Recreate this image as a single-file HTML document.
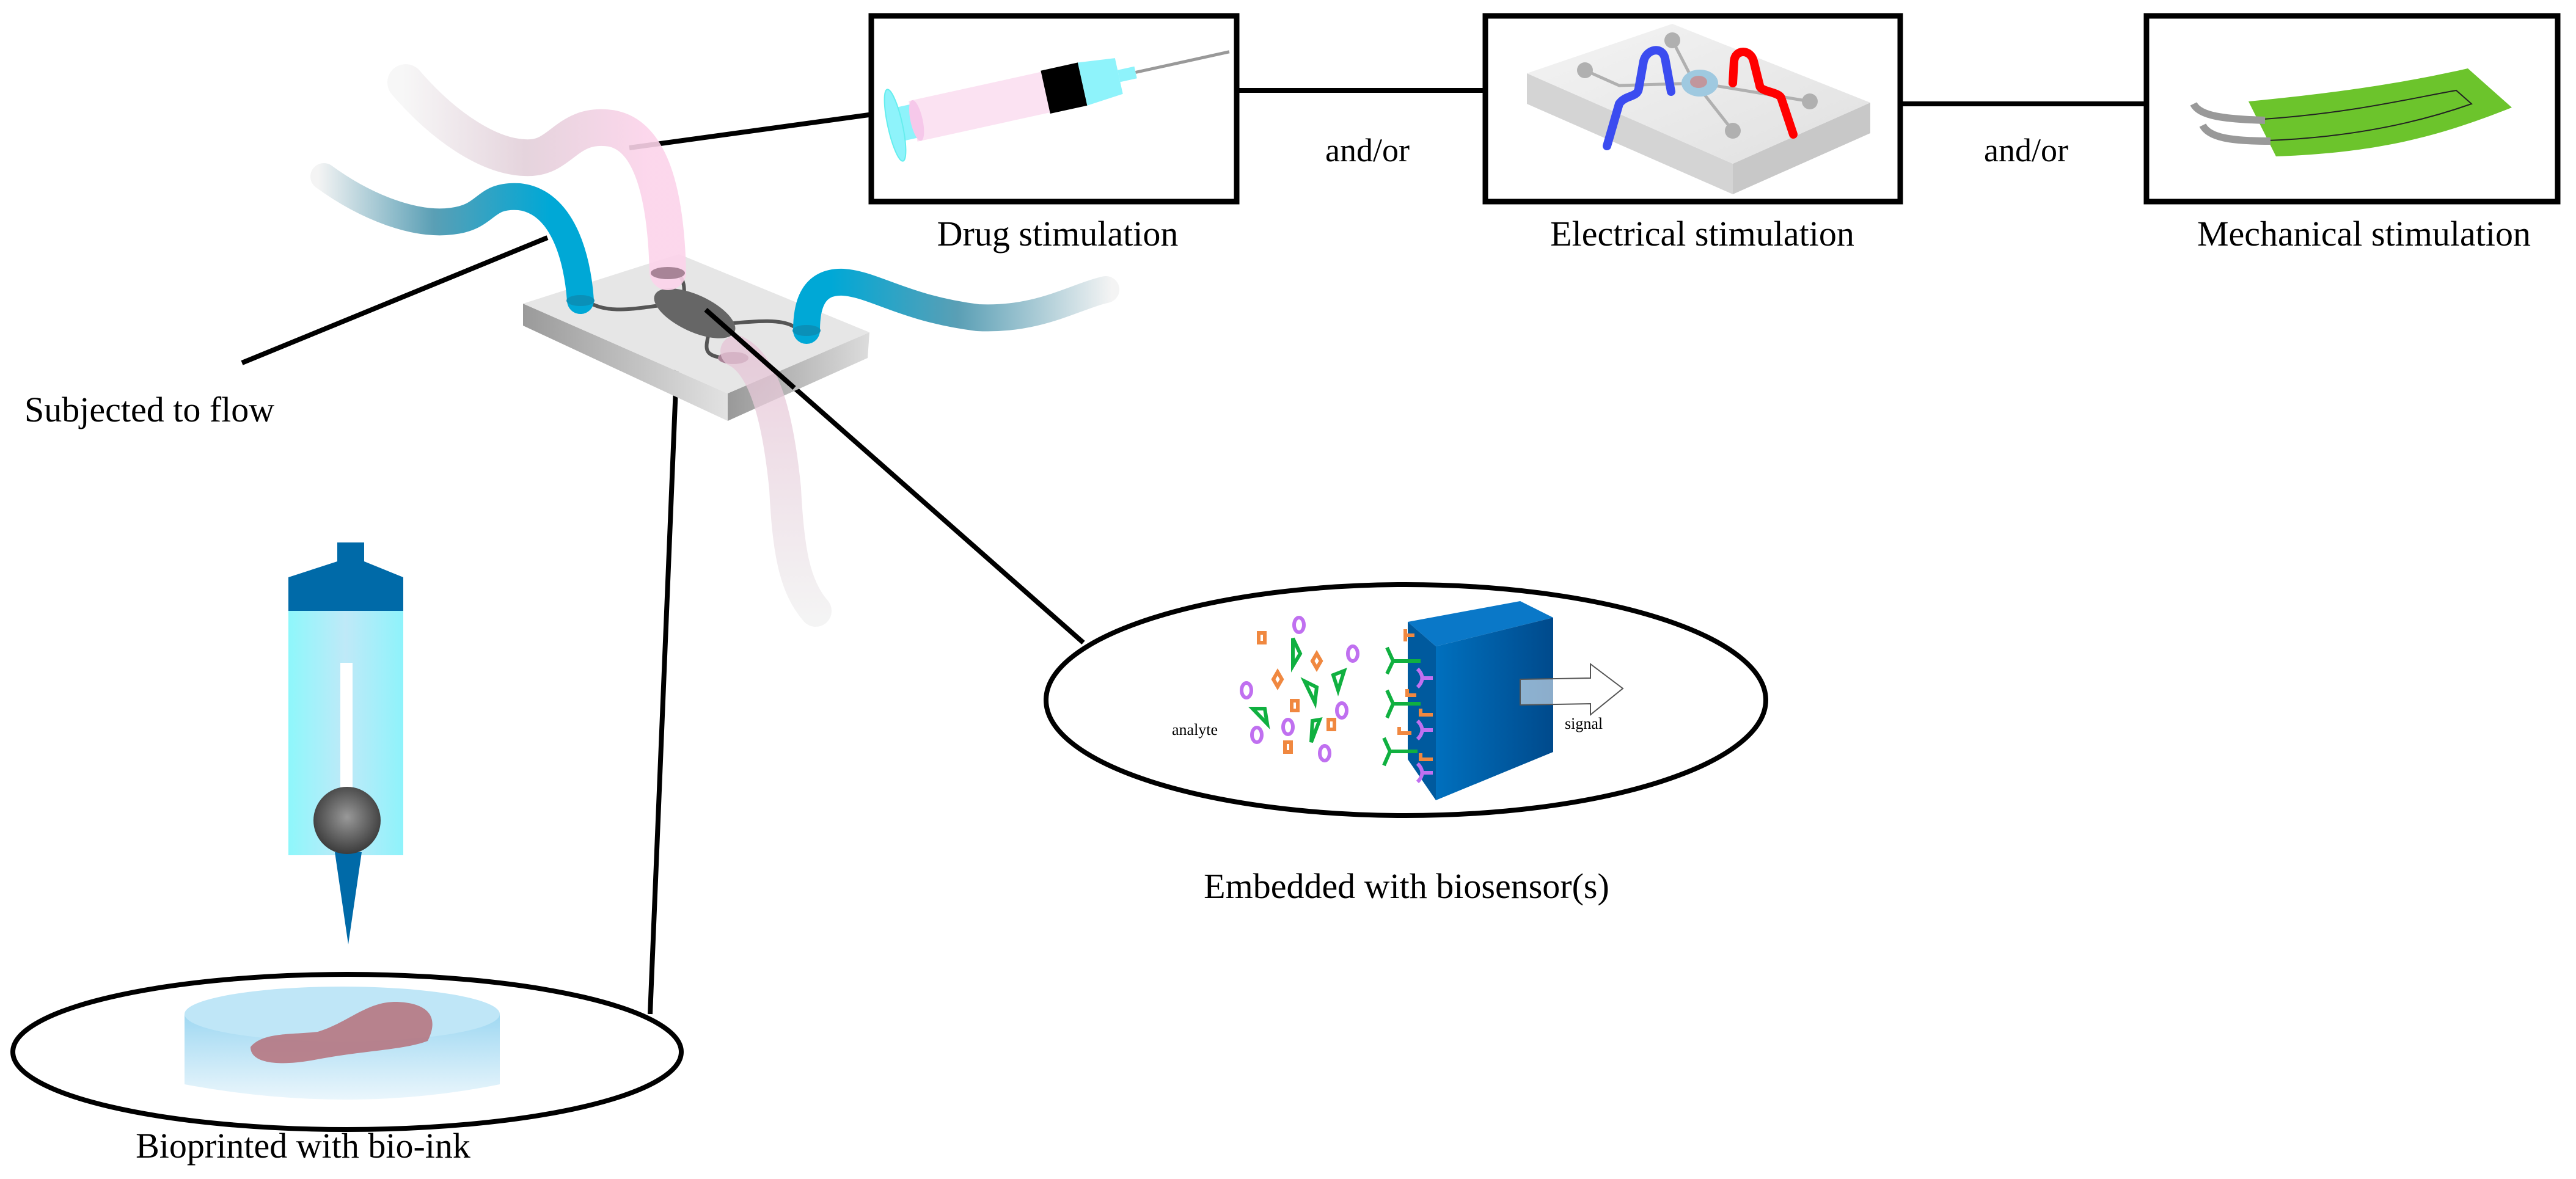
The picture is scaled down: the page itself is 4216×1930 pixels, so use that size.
<!DOCTYPE html>
<html><head><meta charset="utf-8"><style>
html,body{margin:0;padding:0;background:#fff;}
svg{display:block;}
text{font-family:"Liberation Serif",serif;fill:#000;}
</style></head><body>
<svg width="4216" height="1930" viewBox="0 0 4216 1930" xmlns="http://www.w3.org/2000/svg">
<defs>
<linearGradient id="gBlueL" gradientUnits="userSpaceOnUse" x1="520" y1="0" x2="900" y2="0"><stop offset="0" stop-color="#f4f4f4"/><stop offset="0.5" stop-color="#5a9fb5"/><stop offset="1" stop-color="#00a8d6"/></linearGradient>
<linearGradient id="gBlueR" gradientUnits="userSpaceOnUse" x1="1360" y1="0" x2="1820" y2="0"><stop offset="0" stop-color="#00a8d6"/><stop offset="0.45" stop-color="#5a9fb5"/><stop offset="1" stop-color="#f4f4f4"/></linearGradient>
<linearGradient id="gPinkT" gradientUnits="userSpaceOnUse" x1="660" y1="0" x2="1060" y2="0"><stop offset="0" stop-color="#f6f6f6"/><stop offset="0.5" stop-color="#e2cfd9"/><stop offset="1" stop-color="#fcd3ea"/></linearGradient>
<linearGradient id="gPinkB" gradientUnits="userSpaceOnUse" x1="0" y1="590" x2="0" y2="1010"><stop offset="0" stop-color="#e6c4d6"/><stop offset="1" stop-color="#f0f0f0"/></linearGradient>
<linearGradient id="gSideL" x1="0" y1="0" x2="1" y2="0"><stop offset="0" stop-color="#9a9a9a"/><stop offset="1" stop-color="#e2e2e2"/></linearGradient>
<linearGradient id="gSideR" x1="0" y1="0" x2="1" y2="0"><stop offset="0" stop-color="#999"/><stop offset="1" stop-color="#dcdcdc"/></linearGradient>
<linearGradient id="gPrint" x1="0" y1="0" x2="1" y2="0"><stop offset="0" stop-color="#8ef7fb"/><stop offset="0.5" stop-color="#bfe9f8"/><stop offset="1" stop-color="#8ef3fb"/></linearGradient>
<radialGradient id="gBall" cx="0.5" cy="0.45" r="0.6"><stop offset="0" stop-color="#999"/><stop offset="1" stop-color="#333"/></radialGradient>
<linearGradient id="gDish" x1="0" y1="0" x2="0" y2="1"><stop offset="0" stop-color="#9fd8f2"/><stop offset="1" stop-color="#eaf6fc"/></linearGradient>
<linearGradient id="gBlock" x1="0" y1="0" x2="1" y2="0"><stop offset="0" stop-color="#0070be"/><stop offset="1" stop-color="#004a8c"/></linearGradient>
<linearGradient id="gEl" x1="0" y1="0" x2="1" y2="1"><stop offset="0" stop-color="#f4f4f4"/><stop offset="1" stop-color="#e0e0e0"/></linearGradient>
</defs>

<!-- connector lines -->
<g stroke="#000" stroke-width="8" fill="none">
<line x1="1030" y1="242" x2="1422" y2="188"/>
<line x1="896" y1="389" x2="396" y2="594"/>
<line x1="1111" y1="513" x2="1064" y2="1660"/>
<line x1="1155" y1="507" x2="1773" y2="1052"/>
<line x1="2028" y1="148" x2="2427" y2="148"/>
<line x1="3114" y1="170" x2="3509" y2="170"/>
</g>

<!-- chip -->
<polygon points="856,497 1191,644 1191,689 856,533" fill="url(#gSideL)"/>
<polygon points="1191,644 1423,544 1420,586 1191,689" fill="url(#gSideR)"/>
<polygon points="856,497 1111,416 1423,544 1191,644" fill="#e6e6e6"/>
<g stroke="#555" stroke-width="6" fill="none">
<path d="M960 492 C 990 515, 1040 505, 1080 500"/>
<path d="M1110 447 C 1120 460, 1120 470, 1120 485"/>
<path d="M1190 530 C 1240 525, 1280 522, 1300 535"/>
<path d="M1160 545 C 1155 570, 1150 582, 1185 586"/>
</g>
<ellipse cx="1137" cy="513" rx="72" ry="30" transform="rotate(25 1137 513)" fill="#666"/>

<!-- tubes -->
<path d="M530 289 C 600 340, 680 370, 740 362 C 800 355, 790 318, 850 322 C 920 330, 945 420, 950 492" stroke="url(#gBlueL)" stroke-width="44" fill="none" stroke-linecap="round"/>
<ellipse cx="950" cy="492" rx="23" ry="9" fill="#0a90b8"/>
<path d="M664 135 C 720 200, 800 262, 870 258 C 920 255, 930 200, 1000 210 C 1070 222, 1090 330, 1093 445" stroke="url(#gPinkT)" stroke-width="60" fill="none" stroke-linecap="round" opacity="0.9"/>
<ellipse cx="1093" cy="447" rx="28" ry="10" fill="#a88497"/>
<path d="M1320 541 C 1320 500, 1330 460, 1380 462 C 1430 465, 1480 505, 1600 520 C 1700 525, 1760 485, 1810 474" stroke="url(#gBlueR)" stroke-width="44" fill="none" stroke-linecap="round"/>
<ellipse cx="1320" cy="541" rx="23" ry="9" fill="#0a90b8"/>
<ellipse cx="1200" cy="586" rx="25" ry="10" fill="#a88497"/>
<path d="M1205 575 C 1255 600, 1275 700, 1285 800 C 1290 900, 1300 960, 1335 1000" stroke="url(#gPinkB)" stroke-width="52" fill="none" stroke-linecap="round" opacity="0.75"/>
<line x1="1155" y1="507" x2="1300" y2="635" stroke="#000" stroke-width="8"/>

<!-- Box 1: drug -->
<rect x="1426" y="26" width="598" height="304" fill="none" stroke="#000" stroke-width="9"/>
<g transform="translate(1465 205) rotate(-12.4)">
<rect x="8" y="-28" width="28" height="56" fill="#8ef3fb"/>
<rect x="30" y="-34" width="225" height="68" fill="#fbe2f2"/>
<ellipse cx="36" cy="0" rx="10" ry="34" fill="#f6c8ea"/>
<rect x="252" y="-36" width="62" height="72" fill="#000"/>
<polygon points="314,-36 375,-30 375,30 314,36" fill="#8ef3fb"/>
<rect x="375" y="-10" width="28" height="20" fill="#8ef3fb"/>
<line x1="403" y1="0" x2="560" y2="0" stroke="#999" stroke-width="5"/>
<ellipse cx="0" cy="0" rx="12" ry="60" fill="#8ef3fb" stroke="#6ee" stroke-width="2"/>
</g>
<text x="1731" y="402" font-size="58" text-anchor="middle">Drug stimulation</text>

<text x="2238" y="264" font-size="54" text-anchor="middle">and/or</text>
<text x="3316" y="264" font-size="54" text-anchor="middle">and/or</text>

<!-- Box 2: electrical -->
<rect x="2431" y="26" width="679" height="304" fill="none" stroke="#000" stroke-width="9"/>
<polygon points="2499,120 2836,268 2836,318 2499,170" fill="#d4d4d4"/>
<polygon points="2836,268 3061,168 3061,218 2836,318" fill="#c8c8c8"/>
<polygon points="2737,39 3061,168 2836,268 2499,120" fill="url(#gEl)"/>
<g stroke="#b0b0b0" stroke-width="5" fill="none"><path d="M2737 66 L2770 130 L2836 214"/><path d="M2594 115 L2650 140 L2782 136 L2962 166"/></g>
<g fill="#b0b0b0"><circle cx="2737" cy="66" r="13"/><circle cx="2594" cy="115" r="13"/><circle cx="2962" cy="166" r="13"/><circle cx="2836" cy="214" r="13"/></g>
<ellipse cx="2782" cy="136" rx="30" ry="22" fill="#9fc9e0"/>
<ellipse cx="2780" cy="134" rx="14" ry="10" fill="#d08080" opacity="0.7"/>
<path d="M2630 239 L2650 170 C 2660 155, 2680 160, 2682 145 L2690 100 C 2695 80, 2720 75, 2725 95 L2735 150" stroke="#3b4cf0" stroke-width="14" fill="none" stroke-linecap="round"/>
<path d="M2935 220 L2915 160 C 2910 150, 2880 150, 2880 140 L2870 100 C 2865 80, 2840 80, 2838 100 L2836 136" stroke="#f00" stroke-width="14" fill="none" stroke-linecap="round"/>
<text x="2786" y="402" font-size="58" text-anchor="middle">Electrical stimulation</text>

<!-- Box 3: mechanical -->
<rect x="3513" y="26" width="673" height="304" fill="none" stroke="#000" stroke-width="9"/>
<path d="M3680 166 C 3850 150, 3960 130, 4039 112 L4111 176 C 4000 220, 3900 250, 3725 256 Z" fill="#6cc42c"/>
<path d="M3705 195 C 3850 185, 3950 160, 4020 148 L4045 170 C 3960 200, 3850 225, 3710 230" fill="none" stroke="#222" stroke-width="2"/>
<path d="M3590 170 C 3600 190, 3640 195, 3707 197" stroke="#999" stroke-width="12" fill="none"/>
<path d="M3605 205 C 3615 225, 3650 231, 3716 231" stroke="#999" stroke-width="12" fill="none"/>
<text x="3869" y="402" font-size="58" text-anchor="middle">Mechanical stimulation</text>

<text x="40" y="690" font-size="58">Subjected to flow</text>

<!-- bioprinter -->
<rect x="552" y="888" width="44" height="40" fill="#006aa8"/>
<polygon points="472,945 552,919 596,919 660,945 660,1000 472,1000" fill="#006aa8"/>
<rect x="472" y="1000" width="188" height="400" fill="url(#gPrint)"/>
<rect x="557" y="1085" width="20" height="210" fill="#fff"/>
<polygon points="548,1395 592,1395 570,1546" fill="#006aa8"/>
<circle cx="568" cy="1343" r="55" fill="url(#gBall)"/>

<!-- bioprint ellipse -->
<ellipse cx="568" cy="1722" rx="547" ry="127" fill="none" stroke="#000" stroke-width="8"/>
<path d="M302 1660 L302 1775 Q570 1825 818 1775 L818 1660 Z" fill="url(#gDish)"/>
<ellipse cx="560" cy="1660" rx="258" ry="45" fill="#bfe6f7"/>
<path d="M410 1714 C 430 1689, 480 1694, 520 1689 C 570 1674, 600 1639, 650 1640 C 700 1642, 720 1664, 700 1704 C 660 1719, 600 1719, 520 1734 C 460 1746, 410 1742, 410 1714 Z" fill="#b5707a" opacity="0.85"/>
<text x="496" y="1895" font-size="58" text-anchor="middle">Bioprinted with bio-ink</text>

<!-- biosensor ellipse -->
<ellipse cx="2301" cy="1146" rx="589" ry="189" fill="#fff" stroke="#000" stroke-width="8"/>
<polygon points="2304,1018 2488,984 2542,1011 2350,1058" fill="#0a78c8"/>
<polygon points="2304,1018 2350,1058 2350,1310 2304,1243" fill="#005a9e"/>
<polygon points="2350,1058 2542,1011 2542,1231 2350,1310" fill="url(#gBlock)"/>
<path d="M2488 1112 L2603 1110 L2603 1087 L2656 1127 L2603 1170 L2603 1152 L2488 1154 Z" fill="#fff" fill-opacity="0.55" stroke="#555" stroke-width="2"/>
<text x="2561" y="1193" font-size="26">signal</text>
<text x="1918" y="1203" font-size="26">analyte</text>
<g fill="none" stroke-width="6">
<g stroke="#c070f0"><ellipse cx="2126" cy="1023" rx="8" ry="12"/><ellipse cx="2214" cy="1070" rx="8" ry="12"/><ellipse cx="2040" cy="1130" rx="8" ry="12"/><ellipse cx="2196" cy="1163" rx="8" ry="12"/><ellipse cx="2108" cy="1190" rx="8" ry="12"/><ellipse cx="2057" cy="1203" rx="8" ry="12"/><ellipse cx="2168" cy="1233" rx="8" ry="12"/></g>
<g stroke="#f08840"><rect x="2060" y="1036" width="10" height="16"/><rect x="2114" y="1147" width="10" height="16"/><rect x="2174" y="1178" width="10" height="16"/><rect x="2103" y="1215" width="10" height="16"/><polygon points="2155,1070 2162,1082 2155,1094 2148,1082"/><polygon points="2091,1100 2098,1112 2091,1124 2084,1112"/></g>
<g stroke="#10b040"><polygon points="2116,1045 2128,1070 2116,1090"/><polygon points="2200,1098 2190,1130 2182,1105"/><polygon points="2135,1115 2155,1125 2152,1150"/><polygon points="2050,1160 2070,1160 2074,1185"/><polygon points="2148,1180 2160,1178 2146,1215"/></g>
<g stroke="#10b040"><path d="M2270 1060 L2280 1082 L2325 1082 M2280 1082 L2270 1103"/><path d="M2270 1130 L2280 1152 L2325 1152 M2280 1152 L2270 1175"/><path d="M2265 1208 L2275 1230 L2320 1230 M2275 1230 L2265 1253"/></g>
<g stroke="#c070f0"><path d="M2320 1095 Q2335 1110 2320 1125 M2325 1110 L2345 1110"/><path d="M2320 1180 Q2335 1195 2320 1210 M2325 1195 L2345 1195"/><path d="M2320 1250 Q2335 1265 2320 1280 M2325 1265 L2345 1265"/></g>
<g stroke="#f08840"><path d="M2300 1030 L2300 1040 L2315 1040 L2300 1040 L2300 1050"/><path d="M2303 1128 L2303 1138 L2318 1138"/><path d="M2325 1160 L2325 1170 L2345 1170"/><path d="M2290 1190 L2290 1200 L2310 1200"/><path d="M2325 1233 L2325 1243 L2345 1243"/></g>
</g>
<text x="2302" y="1470" font-size="58" text-anchor="middle">Embedded with biosensor(s)</text>
</svg>
</body></html>
